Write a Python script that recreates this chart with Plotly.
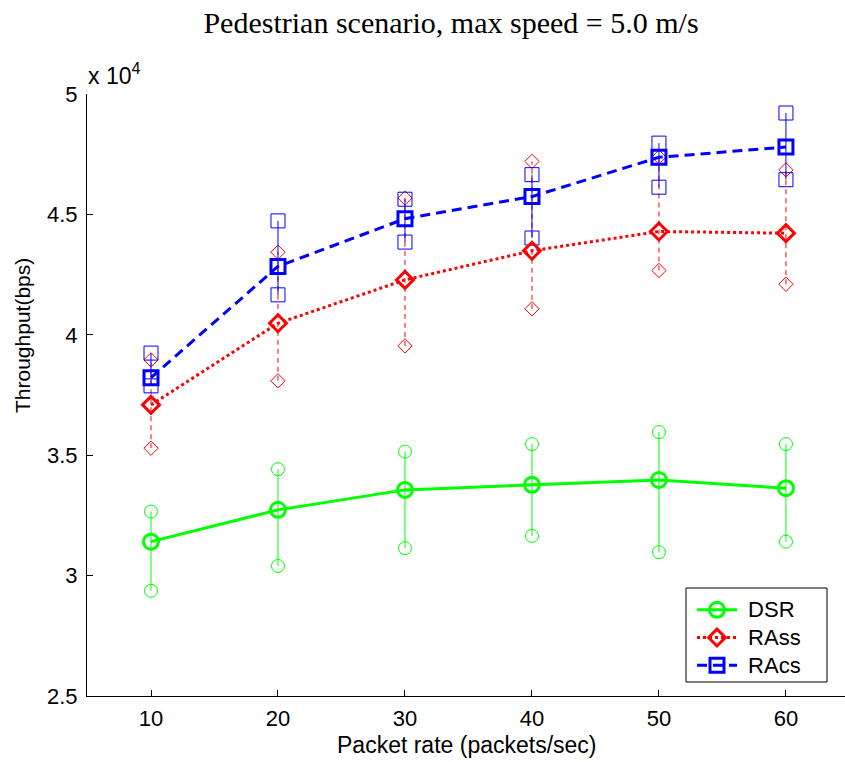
import plotly.graph_objects as go

# Packet rate (packets/sec)
rate = [10, 20, 30, 40, 50, 60]

# Throughput in bps: mean with low / high range per packet rate
dsr_mean = [31410, 32730, 33560, 33770, 33970, 33630]
dsr_low = [29370, 30400, 31140, 31650, 30970, 31410]
dsr_high = [32660, 34420, 35150, 35460, 35960, 35460]

rass_mean = [37090, 40480, 42280, 43490, 44290, 44220]
rass_low = [35290, 38090, 39540, 41080, 42670, 42100]
rass_high = [38960, 43430, 45680, 47200, 47380, 46850]

racs_mean = [38220, 42840, 44820, 45740, 47370, 47800]
racs_low = [37880, 41660, 43850, 44020, 46130, 46440]
racs_high = [39240, 44730, 45630, 46650, 47960, 49210]

y_ticks = [25000, 30000, 35000, 40000, 45000, 50000]
y_tick_text = ["2.5", "3", "3.5", "4", "4.5", "5"]
x_ticks = [10, 20, 30, 40, 50, 60]

GREEN = "#00ff00"
RED = "#ff0000"
BLUE = "#0000ff"
SANS = "Liberation Sans, Arial, sans-serif"
SERIF = "Liberation Serif, Times New Roman, serif"


def span_xy(x, lo, hi):
    xs, ys = [], []
    for xi, l, h in zip(x, lo, hi):
        xs += [xi, xi, None]
        ys += [l, h, None]
    return xs, ys


def legend_label(name):
    # larger glyphs than the legend's row pitch font, with a small lead-in gap
    return f"<span style='font-size:22px'>&nbsp;{name}</span>"


fig = go.Figure()

series = [
    ("DSR", dsr_mean, dsr_low, dsr_high, GREEN, "circle-open", "solid", "solid", 15, 13),
    ("RAss", rass_mean, rass_low, rass_high, RED, "diamond-open", "3px,3px", "5px,4px", 13, 11),
    ("RAcs", racs_mean, racs_low, racs_high, BLUE, "square-open", "10px,6px", "solid", 14, 14),
]

# range bars with end markers
for name, mean, lo, hi, col, sym, dash, rdash, msize, esize in series:
    xs, ys = span_xy(rate, lo, hi)
    fig.add_trace(go.Scatter(
        x=xs, y=ys, mode="lines", showlegend=False, hoverinfo="skip",
        line=dict(color=col, width=1, dash=rdash),
    ))
    fig.add_trace(go.Scatter(
        x=rate + rate, y=lo + hi, mode="markers", showlegend=False,
        marker=dict(symbol=sym, size=esize, color=col, line=dict(color=col, width=1)),
    ))

# mean curves
for name, mean, lo, hi, col, sym, dash, rdash, msize, esize in series:
    fig.add_trace(go.Scatter(
        x=rate, y=mean, mode="lines+markers", name=legend_label(name),
        line=dict(color=col, width=3, dash=dash),
        marker=dict(symbol=sym, size=msize, color=col, line=dict(color=col, width=3)),
    ))

W, H = 845, 762
L, R, T, B = 87, 0, 94, 66
pw, ph = W - L - R, H - T - B


def px_x(p):
    return (p - L) / pw


def px_y(p):
    return (H - B - p) / ph


fig.update_layout(
    width=W, height=H,
    margin=dict(l=L, r=R, t=T, b=B, pad=0),
    paper_bgcolor="white", plot_bgcolor="white",
    font=dict(family=SANS, size=22, color="black"),
    title=dict(
        text="Pedestrian scenario, max speed = 5.0 m/s",
        font=dict(family=SERIF, size=30, color="black"),
        x=451 / W, xanchor="center", y=1 - 22 / H, yanchor="middle",
    ),
    xaxis=dict(
        range=[4.96, 64.65], tickmode="array", tickvals=x_ticks,
        ticks="inside", ticklen=6, tickcolor="black", tickwidth=1,
        showline=True, linecolor="black", linewidth=1, mirror=False,
        showgrid=False, zeroline=False,
        tickfont=dict(family=SANS, size=22, color="black"),
        ticklabelstandoff=3,
    ),
    yaxis=dict(
        range=[25000, 50000], tickmode="array", tickvals=y_ticks, ticktext=y_tick_text,
        ticks="inside", ticklen=6, tickcolor="black", tickwidth=1,
        showline=True, linecolor="black", linewidth=1, mirror=False,
        showgrid=False, zeroline=False,
        tickfont=dict(family=SANS, size=22, color="black"),
        ticklabelstandoff=4,
    ),
    legend=dict(
        x=px_x(692), y=px_y(591), xanchor="left", yanchor="top",
        bgcolor="rgba(0,0,0,0)", borderwidth=0,
        font=dict(family=SANS, size=19, color="black"),
        itemwidth=40, tracegroupgap=0,
    ),
    shapes=[
        # legend frame
        dict(type="rect", xref="paper", yref="paper", layer="above",
             x0=px_x(686), x1=px_x(827), y0=px_y(682), y1=px_y(588),
             line=dict(color="black", width=1), fillcolor="white"),
    ],
    annotations=[
        dict(text="Throughput(bps)", textangle=-90, xref="paper", yref="paper",
             x=px_x(22), y=px_y(336), xanchor="center", yanchor="middle",
             showarrow=False, font=dict(family=SANS, size=21, color="black")),
        dict(text="Packet rate (packets/sec)", xref="paper", yref="paper",
             x=px_x(467), y=px_y(745), xanchor="center", yanchor="middle",
             showarrow=False, font=dict(family=SANS, size=23, color="black")),
        dict(text="x 10<sup>4</sup>", xref="paper", yref="paper",
             x=px_x(86), y=px_y(74), xanchor="left", yanchor="middle",
             showarrow=False, font=dict(family=SANS, size=23, color="black")),
    ],
)

fig.write_html("out.html")
